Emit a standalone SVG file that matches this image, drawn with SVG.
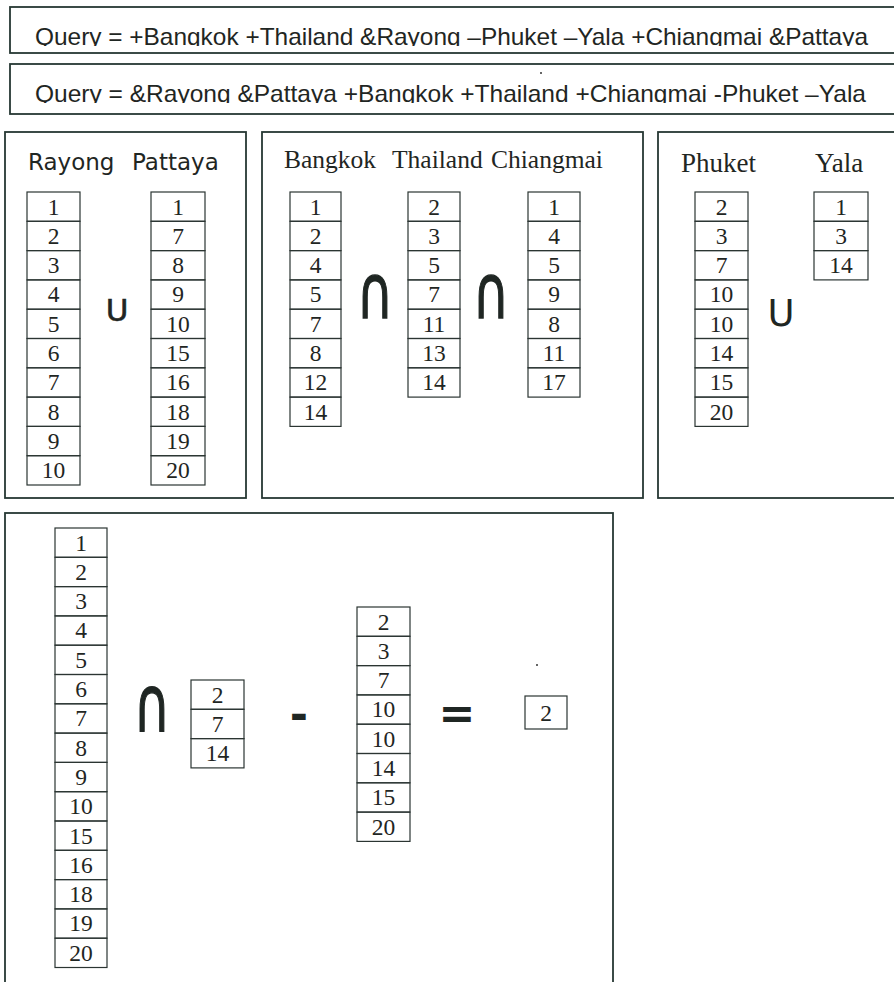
<svg xmlns="http://www.w3.org/2000/svg" width="894" height="982" viewBox="0 0 894 982">
<style>
.frame{fill:none;stroke:#263833;stroke-width:1.8}
.cell{fill:none;stroke:#2b3532;stroke-width:1.2}
.q{font-family:"Liberation Sans",Arial,sans-serif;font-size:24px;fill:#1f2623}
.hs{font-family:"DejaVu Sans",Verdana,sans-serif;font-size:23px;fill:#1f2623}
.ht{font-family:"Liberation Serif","Times New Roman",serif;font-size:25.5px;fill:#1f2623}
.ht2{font-family:"Liberation Serif","Times New Roman",serif;font-size:27px;fill:#1f2623}
.d{font-family:"Liberation Serif","Times New Roman",serif;font-size:23.5px;fill:#1f2623;text-anchor:middle}
.op{font-family:"DejaVu Sans",sans-serif;fill:#1f2623;text-anchor:middle}
.cap{font-family:"DejaVu Sans",sans-serif;font-size:48px;fill:#1f2623;stroke:#1f2623;stroke-width:0.9;text-anchor:middle}
</style>
<defs>
<clipPath id="c1"><rect x="10" y="7" width="890" height="39"/></clipPath>
<clipPath id="c2"><rect x="10" y="65" width="890" height="38"/></clipPath>
</defs>
<rect width="894" height="982" fill="#ffffff"/>

<g id="query1">
<rect class="frame" x="10" y="7" width="900" height="46"/>
<text class="q" x="35" y="45" textLength="833" lengthAdjust="spacingAndGlyphs" clip-path="url(#c1)">Query = +Bangkok +Thailand &amp;Rayong –Phuket –Yala +Chiangmai &amp;Pattaya</text>
</g>
<g id="query2">
<rect class="frame" x="10" y="64" width="900" height="50"/>
<text class="q" x="35" y="102" textLength="831" lengthAdjust="spacingAndGlyphs" clip-path="url(#c2)">Query = &amp;Rayong &amp;Pattaya +Bangkok +Thailand +Chiangmai -Phuket –Yala</text>
<circle cx="541" cy="73" r="1" fill="#333"/>
</g>

<g id="panel-or1">
<rect class="frame" x="5" y="132" width="241" height="366"/>
<text class="hs" x="28" y="170">Rayong</text>
<text class="hs" x="132" y="170">Pattaya</text>
<g id="col-rayong">
<rect class="cell" x="27" y="192" width="53" height="29.3"/><text class="d" x="53.5" y="214.5">1</text>
<rect class="cell" x="27" y="221.3" width="53" height="29.3"/><text class="d" x="53.5" y="243.8">2</text>
<rect class="cell" x="27" y="250.6" width="53" height="29.3"/><text class="d" x="53.5" y="273.1">3</text>
<rect class="cell" x="27" y="279.9" width="53" height="29.3"/><text class="d" x="53.5" y="302.4">4</text>
<rect class="cell" x="27" y="309.2" width="53" height="29.3"/><text class="d" x="53.5" y="331.7">5</text>
<rect class="cell" x="27" y="338.5" width="53" height="29.3"/><text class="d" x="53.5" y="361">6</text>
<rect class="cell" x="27" y="367.8" width="53" height="29.3"/><text class="d" x="53.5" y="390.3">7</text>
<rect class="cell" x="27" y="397.1" width="53" height="29.3"/><text class="d" x="53.5" y="419.6">8</text>
<rect class="cell" x="27" y="426.4" width="53" height="29.3"/><text class="d" x="53.5" y="448.9">9</text>
<rect class="cell" x="27" y="455.7" width="53" height="29.3"/><text class="d" x="53.5" y="478.2">10</text>
</g>
<text class="op" x="117" y="321" font-size="31" stroke="#1f2623" stroke-width="0.6">U</text>
<g id="col-pattaya">
<rect class="cell" x="151" y="192" width="54" height="29.3"/><text class="d" x="178" y="214.5">1</text>
<rect class="cell" x="151" y="221.3" width="54" height="29.3"/><text class="d" x="178" y="243.8">7</text>
<rect class="cell" x="151" y="250.6" width="54" height="29.3"/><text class="d" x="178" y="273.1">8</text>
<rect class="cell" x="151" y="279.9" width="54" height="29.3"/><text class="d" x="178" y="302.4">9</text>
<rect class="cell" x="151" y="309.2" width="54" height="29.3"/><text class="d" x="178" y="331.7">10</text>
<rect class="cell" x="151" y="338.5" width="54" height="29.3"/><text class="d" x="178" y="361">15</text>
<rect class="cell" x="151" y="367.8" width="54" height="29.3"/><text class="d" x="178" y="390.3">16</text>
<rect class="cell" x="151" y="397.1" width="54" height="29.3"/><text class="d" x="178" y="419.6">18</text>
<rect class="cell" x="151" y="426.4" width="54" height="29.3"/><text class="d" x="178" y="448.9">19</text>
<rect class="cell" x="151" y="455.7" width="54" height="29.3"/><text class="d" x="178" y="478.2">20</text>
</g>
</g>

<g id="panel-and">
<rect class="frame" x="262" y="132" width="381" height="366"/>
<text class="ht" x="284" y="168">Bangkok</text>
<text class="ht" x="392" y="168">Thailand</text>
<text class="ht" x="491" y="168">Chiangmai</text>
<g id="col-bangkok">
<rect class="cell" x="290" y="192" width="51" height="29.3"/><text class="d" x="315.5" y="214.5">1</text>
<rect class="cell" x="290" y="221.3" width="51" height="29.3"/><text class="d" x="315.5" y="243.8">2</text>
<rect class="cell" x="290" y="250.6" width="51" height="29.3"/><text class="d" x="315.5" y="273.1">4</text>
<rect class="cell" x="290" y="279.9" width="51" height="29.3"/><text class="d" x="315.5" y="302.4">5</text>
<rect class="cell" x="290" y="309.2" width="51" height="29.3"/><text class="d" x="315.5" y="331.7">7</text>
<rect class="cell" x="290" y="338.5" width="51" height="29.3"/><text class="d" x="315.5" y="361">8</text>
<rect class="cell" x="290" y="367.8" width="51" height="29.3"/><text class="d" x="315.5" y="390.3">12</text>
<rect class="cell" x="290" y="397.1" width="51" height="29.3"/><text class="d" x="315.5" y="419.6">14</text>
</g>
<text class="cap" transform="translate(375,318) scale(1.05,1.55)">∩</text>
<g id="col-thailand">
<rect class="cell" x="408" y="192" width="52" height="29.3"/><text class="d" x="434" y="214.5">2</text>
<rect class="cell" x="408" y="221.3" width="52" height="29.3"/><text class="d" x="434" y="243.8">3</text>
<rect class="cell" x="408" y="250.6" width="52" height="29.3"/><text class="d" x="434" y="273.1">5</text>
<rect class="cell" x="408" y="279.9" width="52" height="29.3"/><text class="d" x="434" y="302.4">7</text>
<rect class="cell" x="408" y="309.2" width="52" height="29.3"/><text class="d" x="434" y="331.7">11</text>
<rect class="cell" x="408" y="338.5" width="52" height="29.3"/><text class="d" x="434" y="361">13</text>
<rect class="cell" x="408" y="367.8" width="52" height="29.3"/><text class="d" x="434" y="390.3">14</text>
</g>
<text class="cap" transform="translate(491,318) scale(1.05,1.55)">∩</text>
<g id="col-chiangmai">
<rect class="cell" x="528" y="192" width="52" height="29.3"/><text class="d" x="554" y="214.5">1</text>
<rect class="cell" x="528" y="221.3" width="52" height="29.3"/><text class="d" x="554" y="243.8">4</text>
<rect class="cell" x="528" y="250.6" width="52" height="29.3"/><text class="d" x="554" y="273.1">5</text>
<rect class="cell" x="528" y="279.9" width="52" height="29.3"/><text class="d" x="554" y="302.4">9</text>
<rect class="cell" x="528" y="309.2" width="52" height="29.3"/><text class="d" x="554" y="331.7">8</text>
<rect class="cell" x="528" y="338.5" width="52" height="29.3"/><text class="d" x="554" y="361">11</text>
<rect class="cell" x="528" y="367.8" width="52" height="29.3"/><text class="d" x="554" y="390.3">17</text>
</g>
</g>

<g id="panel-not">
<rect class="frame" x="658" y="132" width="250" height="366"/>
<text class="ht2" x="681" y="172">Phuket</text>
<text class="ht2" x="815" y="172">Yala</text>
<g id="col-phuket">
<rect class="cell" x="695" y="192" width="53" height="29.3"/><text class="d" x="721.5" y="214.5">2</text>
<rect class="cell" x="695" y="221.3" width="53" height="29.3"/><text class="d" x="721.5" y="243.8">3</text>
<rect class="cell" x="695" y="250.6" width="53" height="29.3"/><text class="d" x="721.5" y="273.1">7</text>
<rect class="cell" x="695" y="279.9" width="53" height="29.3"/><text class="d" x="721.5" y="302.4">10</text>
<rect class="cell" x="695" y="309.2" width="53" height="29.3"/><text class="d" x="721.5" y="331.7">10</text>
<rect class="cell" x="695" y="338.5" width="53" height="29.3"/><text class="d" x="721.5" y="361">14</text>
<rect class="cell" x="695" y="367.8" width="53" height="29.3"/><text class="d" x="721.5" y="390.3">15</text>
<rect class="cell" x="695" y="397.1" width="53" height="29.3"/><text class="d" x="721.5" y="419.6">20</text>
</g>
<text class="op" x="781" y="326" font-size="37">U</text>
<g id="col-yala">
<rect class="cell" x="814" y="192" width="54" height="29.3"/><text class="d" x="841" y="214.5">1</text>
<rect class="cell" x="814" y="221.3" width="54" height="29.3"/><text class="d" x="841" y="243.8">3</text>
<rect class="cell" x="814" y="250.6" width="54" height="29.3"/><text class="d" x="841" y="273.1">14</text>
</g>
</g>

<g id="panel-result">
<rect class="frame" x="5" y="513" width="608" height="480"/>
<g id="col-union">
<rect class="cell" x="55" y="528" width="52" height="29.3"/><text class="d" x="81" y="550.5">1</text>
<rect class="cell" x="55" y="557.3" width="52" height="29.3"/><text class="d" x="81" y="579.8">2</text>
<rect class="cell" x="55" y="586.6" width="52" height="29.3"/><text class="d" x="81" y="609.1">3</text>
<rect class="cell" x="55" y="615.9" width="52" height="29.3"/><text class="d" x="81" y="638.4">4</text>
<rect class="cell" x="55" y="645.2" width="52" height="29.3"/><text class="d" x="81" y="667.7">5</text>
<rect class="cell" x="55" y="674.5" width="52" height="29.3"/><text class="d" x="81" y="697">6</text>
<rect class="cell" x="55" y="703.8" width="52" height="29.3"/><text class="d" x="81" y="726.3">7</text>
<rect class="cell" x="55" y="733.1" width="52" height="29.3"/><text class="d" x="81" y="755.6">8</text>
<rect class="cell" x="55" y="762.4" width="52" height="29.3"/><text class="d" x="81" y="784.9">9</text>
<rect class="cell" x="55" y="791.7" width="52" height="29.3"/><text class="d" x="81" y="814.2">10</text>
<rect class="cell" x="55" y="821" width="52" height="29.3"/><text class="d" x="81" y="843.5">15</text>
<rect class="cell" x="55" y="850.3" width="52" height="29.3"/><text class="d" x="81" y="872.8">16</text>
<rect class="cell" x="55" y="879.6" width="52" height="29.3"/><text class="d" x="81" y="902.1">18</text>
<rect class="cell" x="55" y="908.9" width="52" height="29.3"/><text class="d" x="81" y="931.4">19</text>
<rect class="cell" x="55" y="938.2" width="52" height="29.3"/><text class="d" x="81" y="960.7">20</text>
</g>
<text class="cap" transform="translate(152,731) scale(1.05,1.6)">∩</text>
<g id="col-intersect">
<rect class="cell" x="191" y="680" width="53" height="29.3"/><text class="d" x="217.5" y="702.5">2</text>
<rect class="cell" x="191" y="709.3" width="53" height="29.3"/><text class="d" x="217.5" y="731.8">7</text>
<rect class="cell" x="191" y="738.6" width="53" height="29.3"/><text class="d" x="217.5" y="761.1">14</text>
</g>
<text class="op" x="299" y="730" font-size="44" font-weight="bold">-</text>
<g id="col-minus">
<rect class="cell" x="357" y="607" width="53" height="29.3"/><text class="d" x="383.5" y="629.5">2</text>
<rect class="cell" x="357" y="636.3" width="53" height="29.3"/><text class="d" x="383.5" y="658.8">3</text>
<rect class="cell" x="357" y="665.6" width="53" height="29.3"/><text class="d" x="383.5" y="688.1">7</text>
<rect class="cell" x="357" y="694.9" width="53" height="29.3"/><text class="d" x="383.5" y="717.4">10</text>
<rect class="cell" x="357" y="724.2" width="53" height="29.3"/><text class="d" x="383.5" y="746.7">10</text>
<rect class="cell" x="357" y="753.5" width="53" height="29.3"/><text class="d" x="383.5" y="776">14</text>
<rect class="cell" x="357" y="782.8" width="53" height="29.3"/><text class="d" x="383.5" y="805.3">15</text>
<rect class="cell" x="357" y="812.1" width="53" height="29.3"/><text class="d" x="383.5" y="834.6">20</text>
</g>
<text class="op" x="457" y="728" font-size="44" font-weight="bold">=</text>
<circle cx="537" cy="665" r="1" fill="#333"/>
<g id="result">
<rect class="cell" x="525" y="696" width="42" height="33"/><text class="d" x="546" y="721">2</text>
</g>
</g>
<g id="connectors"/>
</svg>
